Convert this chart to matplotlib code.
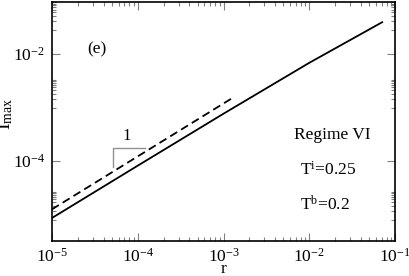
import matplotlib
matplotlib.use('Agg')
import matplotlib.pyplot as plt
import numpy as np

plt.rcParams['font.family'] = ['Liberation Serif', 'DejaVu Serif']
plt.rcParams['mathtext.fontset'] = 'custom'
plt.rcParams['mathtext.rm'] = 'Liberation Serif'
plt.rcParams['mathtext.it'] = 'Liberation Serif'

# data
r_solid = [1e-5, 1e-4, 1e-3, 1e-2, 7.06e-2]
I_solid = [8.6e-6, 8.2e-5, 7.7e-4, 6.9e-3, 3.96e-2]
r_dash = [1e-5, 1.3e-3]
I_dash = [1.25e-5, 1.55e-3]

x_ticks = [1e-5, 1e-4, 1e-3, 1e-2, 1e-1]
y_ticks = [1e-4, 1e-2]

fig = plt.figure(figsize=(4.09, 2.76), dpi=100)
ax = fig.add_axes([0.127, 0.127, 0.839, 0.866])

ax.plot(r_solid, I_solid, color='black', lw=1.3)
ax.plot(r_dash, I_dash, color='black', lw=1.3, dashes=(4.5, 2.5))

# slope-1 marker
ax.plot([5.1e-5, 5.1e-5, 1.2e-4], [7.7e-5, 1.75e-4, 1.75e-4], color='#909090', lw=1.0)
ax.text(7.4e-5, 2.1e-4, '1', fontsize=12, ha='center', va='bottom')

ax.set_xscale('log')
ax.set_yscale('log')
ax.set_xlim(1e-5, 1e-1)
ax.set_ylim(3.2e-6, 0.095)

ax.set_xticks(x_ticks)
ax.set_xticklabels([r'$10^{%d}$' % int(np.log10(v)) for v in x_ticks])
ax.set_yticks(y_ticks)
ax.set_yticklabels([r'$10^{%d}$' % int(np.log10(v)) for v in y_ticks])

# grace-style minor ticks on y
ymin = []
for start in [-5.1, -3.0, -1.55]:
    for k in range(1, 10):
        ymin.append(10 ** (start + 0.55 * np.log10(k)))
ax.set_yticks(ymin, minor=True)
ax.set_yticklabels([], minor=True)

ax.tick_params(which='both', direction='in', top=True, right=True, labelsize=12.5, pad=5)
ax.tick_params(which='major', length=6, width=0.8, color='#808080')
ax.tick_params(which='minor', length=3, width=0.8, color='#808080')
for s in ax.spines.values():
    s.set_linewidth(1.2)

ax.set_xlabel('r', fontsize=12.5)
ax.xaxis.set_label_coords(0.5, -0.085)
ax.set_ylabel(r'I$_{\rm max}$', fontsize=14)
ax.yaxis.set_label_coords(-0.108, 0.53)

ax.text(0.13, 0.80, '(e)', transform=ax.transAxes, fontsize=12.5, ha='center', va='center')
ax.text(0.706, 0.443, 'Regime VI', transform=ax.transAxes, fontsize=12.5, ha='left', va='center')
ax.text(0.722, 0.297, r'T$^{\rm i}$=0.25', transform=ax.transAxes, fontsize=12.5, ha='left', va='center')
ax.text(0.722, 0.150, r'T$^{\rm b}$=0.2', transform=ax.transAxes, fontsize=12.5, ha='left', va='center')

plt.savefig('out.png', dpi=100)
